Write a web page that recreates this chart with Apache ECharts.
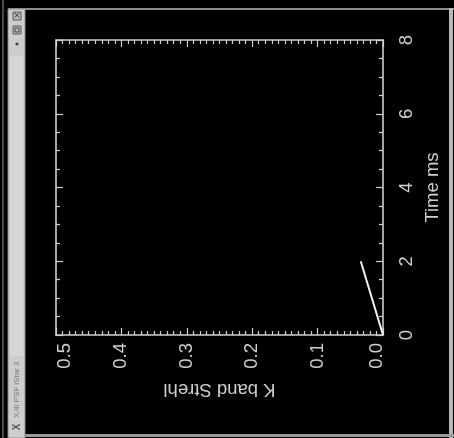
<!DOCTYPE html>
<html>
<head>
<meta charset="utf-8">
<script src="https://cdn.jsdelivr.net/npm/echarts@6/dist/echarts.min.js"></script>
<style>
  html, body { margin: 0; padding: 0; background: #000; }
  #chart { width: 454px; height: 438px; }
</style>
</head>
<body>
<div id="chart"></div>
<script>
// Strehl ratio in K band versus time (plot window turned on its side)
const timeMs = [0, 2];
const kStrehl = [0, 0.034];

const strehlLabels = ['0.0', '0.1', '0.2', '0.3', '0.4', '0.5'];
const timeLabels = ['0', '2', '4', '6', '8'];

const windowTitle = 'X-ill PSF iStar 3';

const FG = '#cfcfcf';
const FONT = '"Liberation Sans", Arial, sans-serif';
const FS = 18.5;

const chart = echarts.init(document.getElementById('chart'), null, { renderer: 'canvas' });

const strehlAxisBase = {
  type: 'value',
  inverse: true,
  min: 0,
  max: 0.5,
  interval: 0.1,
  axisLine: { show: true, onZero: false, lineStyle: { color: FG, width: 1.6 } },
  axisTick: { show: true, inside: true, length: 7, lineStyle: { color: FG, width: 1.2 } },
  minorTick: { show: true, splitNumber: 10, length: 4, lineStyle: { color: FG, width: 1.2 } },
  splitLine: { show: false },
  minorSplitLine: { show: false }
};

const timeAxisBase = {
  type: 'value',
  min: 0,
  max: 8,
  interval: 2,
  axisLine: { show: true, onZero: false, lineStyle: { color: FG, width: 1.6 } },
  axisTick: { show: true, inside: true, length: 7, lineStyle: { color: FG, width: 1.2 } },
  minorTick: { show: true, splitNumber: 4, length: 4, lineStyle: { color: FG, width: 1.2 } },
  splitLine: { show: false },
  minorSplitLine: { show: false }
};

// end labels of the Strehl axis are nudged inward, away from the frame corners
function strehlLabel(v) {
  const i = Math.round(v * 10);
  const txt = strehlLabels[i];
  if (i === 0) return '{lo|' + txt + '}';
  if (i === strehlLabels.length - 1) return '{hi|' + txt + '}';
  return txt;
}

const labelText = { color: FG, fontFamily: FONT, fontSize: FS };

const option = {
  backgroundColor: '#000',
  animation: false,
  grid: { left: 56, top: 40, width: 327, height: 295, containLabel: false },
  xAxis: [
    Object.assign({}, strehlAxisBase, {
      position: 'bottom',
      name: 'K band Strehl',
      nameLocation: 'middle',
      nameRotate: 180,
      nameGap: 45,
      nameTextStyle: { color: FG, fontFamily: FONT, fontSize: FS },
      axisLabel: Object.assign({
        show: true,
        rotate: 90,
        margin: 8,
        formatter: strehlLabel,
        rich: {
          lo: Object.assign({ padding: [0, 0, 12, 0] }, labelText),
          hi: Object.assign({ padding: [18, 0, 0, 0] }, labelText)
        }
      }, labelText)
    }),
    Object.assign({}, strehlAxisBase, {
      position: 'top',
      axisLabel: { show: false }
    })
  ],
  yAxis: [
    Object.assign({}, timeAxisBase, {
      position: 'right',
      name: 'Time ms',
      nameLocation: 'middle',
      nameRotate: 90,
      nameGap: 35,
      nameTextStyle: { color: FG, fontFamily: FONT, fontSize: FS },
      axisLabel: Object.assign({
        show: true,
        rotate: 90,
        margin: 14,
        formatter: v => timeLabels[Math.round(v / 2)]
      }, labelText)
    }),
    Object.assign({}, timeAxisBase, {
      position: 'left',
      axisLabel: { show: false }
    })
  ],
  series: [{
    type: 'line',
    xAxisIndex: 0,
    yAxisIndex: 0,
    data: timeMs.map((t, i) => [kStrehl[i], t]),
    showSymbol: false,
    lineStyle: { color: '#f2f2f2', width: 2 }
  }],
  graphic: [
    // outer desktop edge
    { type: 'rect', shape: { x: 2, y: 0, width: 2, height: 438 }, style: { fill: '#4a4a4a' }, silent: true },
    // window frame
    { type: 'rect', shape: { x: 8, y: 8, width: 446, height: 2 }, style: { fill: '#8e8e8e' }, silent: true },
    { type: 'rect', shape: { x: 449, y: 8, width: 4, height: 430 }, style: { fill: '#b8b8b8' }, silent: true },
    { type: 'rect', shape: { x: 8, y: 434, width: 446, height: 3 }, style: { fill: '#9a9a9a' }, silent: true },
    // title bar along the left side
    { type: 'rect', shape: { x: 8, y: 9, width: 17, height: 429 }, style: { fill: '#cdcdcd', stroke: '#8a8a8a', lineWidth: 1 }, silent: true },
    { type: 'rect', shape: { x: 10, y: 56, width: 13, height: 300 }, style: { fill: '#d6d6d6' }, silent: true },
    // window buttons
    { type: 'rect', shape: { x: 13, y: 12, width: 8, height: 8 }, style: { fill: '#bdbdbd', stroke: '#555', lineWidth: 1 }, silent: true },
    { type: 'text', x: 17, y: 16, style: { text: '×', fill: '#333', font: '9px "DejaVu Sans"', align: 'center', verticalAlign: 'middle' }, silent: true },
    { type: 'rect', shape: { x: 13, y: 26, width: 8, height: 8 }, style: { fill: '#bdbdbd', stroke: '#555', lineWidth: 1 }, silent: true },
    { type: 'rect', shape: { x: 15, y: 28, width: 4, height: 4 }, style: { fill: 'none', stroke: '#444', lineWidth: 1 }, silent: true },
    { type: 'circle', shape: { cx: 17, cy: 44, r: 1.6 }, style: { fill: '#444' }, silent: true },
    // window title, read bottom to top
    { type: 'text', x: 17, y: 418, rotation: Math.PI / 2,
      style: { text: windowTitle, fill: '#7a7a7a', font: '8px "Liberation Sans"', align: 'left', verticalAlign: 'middle' }, silent: true },
    { type: 'text', x: 17, y: 427, rotation: Math.PI / 2,
      style: { text: 'X', fill: '#555', font: 'bold 10px "Liberation Sans"', align: 'center', verticalAlign: 'middle' }, silent: true }
  ]
};

chart.setOption(option);
</script>
</body>
</html>
